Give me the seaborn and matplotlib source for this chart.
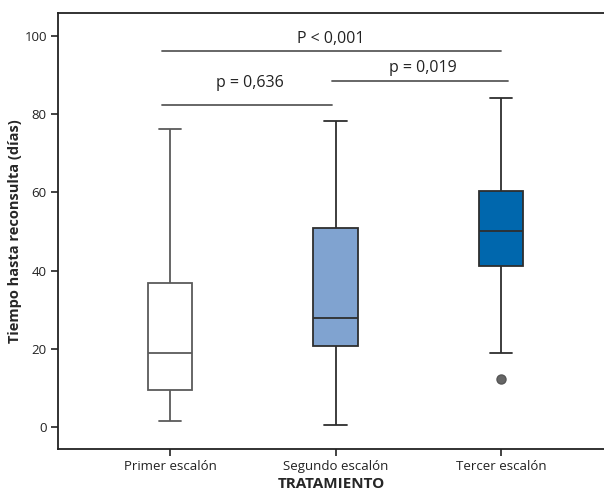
import seaborn as sns
import matplotlib.pyplot as plt
import pandas as pd

# Datos (resumen de cada caja)
grupos = ["Primer escalón", "Segundo escalón", "Tercer escalón"]
minimos = [1.5, 0.5, 19.0]
q1 = [9.5, 20.8, 41.3]
medianas = [19.0, 27.9, 50.2]
q3 = [36.9, 51.0, 60.4]
maximos = [76.2, 78.3, 84.1]
atipicos = [None, None, 12.3]
colores = ["#FFFFFF", "#80A3D0", "#0067AD"]

# Comparaciones: (grupo inicio, grupo fin, altura, texto)
comp_inicio = [-0.05, 0.98, -0.05]
comp_fin = [0.98, 2.04, 2.0]
comp_altura = [82.4, 88.5, 96.2]
comp_texto = ["p = 0,636", "p = 0,019", "P < 0,001"]
texto_x = [0.48, 1.53, 0.97]
texto_y = [87.0, 90.9, 98.3]

# Muestra de 9 valores por grupo que reproduce los cuartiles
filas = []
for i, g in enumerate(grupos):
    bajo = atipicos[i] if atipicos[i] is not None else minimos[i]
    valores = [bajo, minimos[i], q1[i], medianas[i], medianas[i], medianas[i],
               q3[i], maximos[i], maximos[i]]
    for v in valores:
        filas.append({"grupo": g, "dias": v})
df = pd.DataFrame(filas)

sns.set_style("ticks")
plt.rcParams['font.family'] = ['Open Sans', 'DejaVu Sans']

fig = plt.figure(figsize=(6.04, 4.93), dpi=100)
ax = fig.add_axes([0.096, 0.0892, 0.904, 0.8854])

sns.boxplot(data=df, x="grupo", y="dias", hue="grupo", order=grupos,
            hue_order=grupos, palette=colores, saturation=1, width=0.27,
            linewidth=1.3, linecolor="#2e2e2e", legend=False, whis=1.5, ax=ax,
            flierprops=dict(marker="o", markersize=6.5, markerfacecolor="#666666",
                            markeredgecolor="#555555"))

# La primera caja con trazo gris
cont = ax.containers[0]
for art in list(cont.whiskers) + list(cont.caps) + list(cont.medians):
    art.set_color("#5a5a5a")
for b in cont.boxes:
    b.set_edgecolor("#5a5a5a")

# Lineas de comparacion
for x0, x1, h, t, tx, ty in zip(comp_inicio, comp_fin, comp_altura, comp_texto, texto_x, texto_y):
    ax.plot([x0, x1], [h, h], color="#5a5a5a", linewidth=1.3)
    ax.text(tx, ty, t, ha="center", va="baseline", fontsize=11.5, color="#222222")

ax.set_xlim(-0.677, 2.622)
ax.set_ylim(-5.6, 106)
ax.set_yticks([0, 20, 40, 60, 80, 100])
ax.tick_params(axis="both", labelsize=9.5, colors="#222222", length=5, width=1.2, pad=3)
ax.set_xlabel("TRATAMIENTO", fontsize=11, fontweight="bold", labelpad=3)
ax.set_ylabel("Tiempo hasta reconsulta (días)", fontsize=10.5, fontweight="bold", labelpad=2)
for s in ["left", "bottom", "top"]:
    ax.spines[s].set_linewidth(1.3)
    ax.spines[s].set_color("#222222")
ax.spines["right"].set_visible(False)
ax.spines["top"].set_visible(True)

plt.savefig("out.png", dpi=100)
